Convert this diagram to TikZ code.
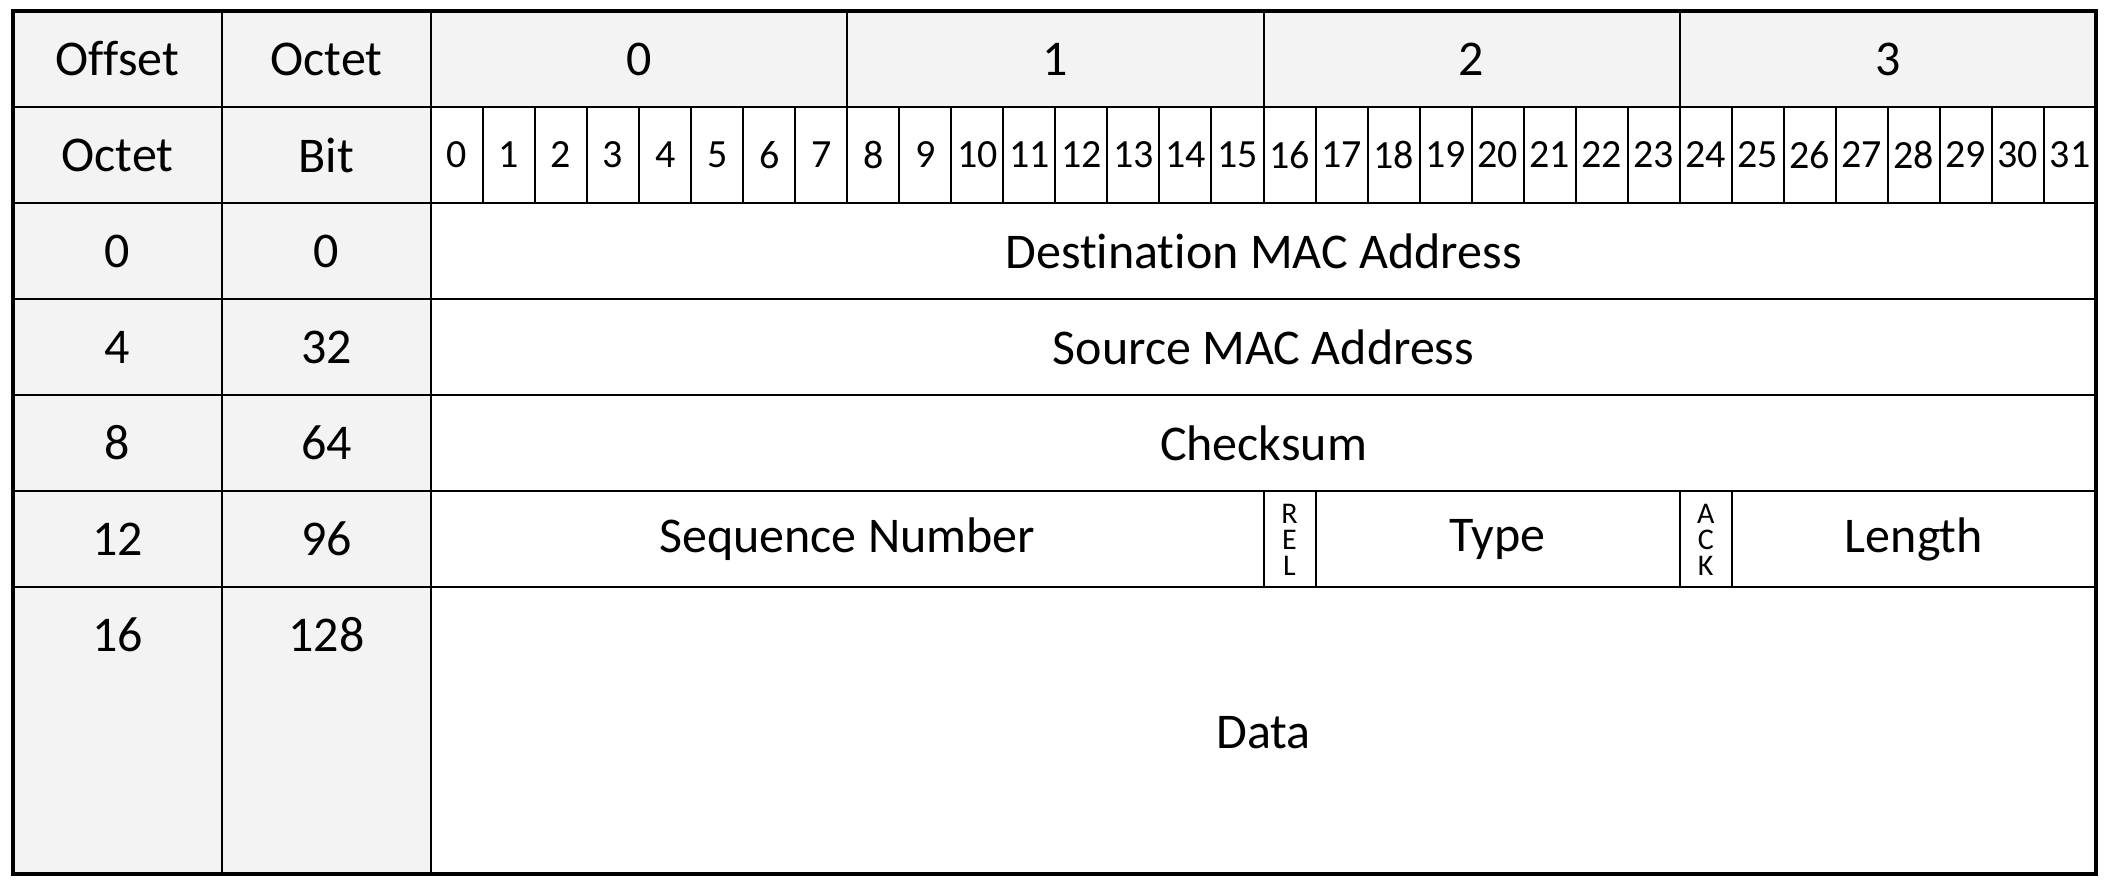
\documentclass[tikz,border=0pt]{standalone}
\usepackage{fontspec}
\setmainfont{Carlito}[Ligatures=NoCommon]
\definecolor{hdr}{RGB}{243,243,243}
\begin{document}
\begin{tikzpicture}[x=0.5pt,y=-0.5pt,
  grid/.style={draw=black,line width=1pt},
  big/.style={font=\fontsize{25}{30}\selectfont, inner sep=0},
  bitlbl/.style={font=\fontsize{20}{24}\selectfont, inner sep=0},
  tinylbl/.style={font=\fontsize{15}{13}\selectfont, align=center, inner sep=0}]
\useasboundingbox (0,0) rectangle (2110,885);
\def\bw{52.03125}
% fills
\fill[hdr] (13,11) rectangle (2096,107);
\fill[hdr] (13,107) rectangle (431,874);
% header row 1
\draw[grid] (13,11) rectangle (222,107);
\node[big] (hOffset) at (117.5,59) {Offset};
\draw[grid] (222,11) rectangle (431,107);
\node[big] (hOctet) at (326.5,59) {Octet};
\foreach \k in {0,1,2,3}{
  \draw[grid] ({431+\k*8*\bw},11) rectangle ({431+(\k+1)*8*\bw},107);
  \node[big] (oct\k) at ({431+(\k+0.5)*8*\bw},59) {\k};
}
% header row 2
\draw[grid] (13,107) rectangle (222,203);
\node[big] (hOctetB) at (117.5,155) {Octet};
\draw[grid] (222,107) rectangle (431,203);
\node[big] (hBit) at (326.5,155) {Bit};
\foreach \i in {0,...,31}{
  \draw[grid] ({431+\i*\bw},107) rectangle ({431+(\i+1)*\bw},203);
  \node[bitlbl] (bit\i) at ({431+(\i+0.5)*\bw},155) {\i};
}
% left columns
\foreach \t/\b/\o/\bt/\n in {203/299/0/0/a,299/395/4/32/b,395/491/8/64/c,491/587/12/96/d,587/874/16/128/e}{
  \draw[grid] (13,\t) rectangle (222,\b);
  \draw[grid] (222,\t) rectangle (431,\b);
  \node[big] (off\n) at (117.5,{\t+48}) {\o};
  \node[big] (bof\n) at (326.5,{\t+48}) {\bt};
}
% fields
\draw[grid] (431,203) rectangle (2096,299);
\node[big] (dst) at (1263.5,251) {Destination MAC Address};
\draw[grid] (431,299) rectangle (2096,395);
\node[big] (src) at (1263.5,347) {Source MAC Address};
\draw[grid] (431,395) rectangle (2096,491);
\node[big] (chk) at (1263.5,443) {Checksum};
\draw[grid] (431,491) rectangle ({431+16*\bw},587);
\node[big] (seq) at ({431+8*\bw},539) {Sequence Number};
\draw[grid] ({431+16*\bw},491) rectangle ({431+17*\bw},587);
\node[tinylbl] (rel) at ({431+16.5*\bw},540) {R\\E\\L};
\draw[grid] ({431+17*\bw},491) rectangle ({431+24*\bw},587);
\node[big] (typ) at ({431+20.5*\bw},539) {Type};
\draw[grid] ({431+24*\bw},491) rectangle ({431+25*\bw},587);
\node[tinylbl] (ack) at ({431+24.5*\bw},540) {A\\C\\K};
\draw[grid] ({431+25*\bw},491) rectangle (2096,587);
\node[big] (len) at ({431+28.5*\bw},539) {Length};
\draw[grid] (431,587) rectangle (2096,874);
\node[big] (dat) at (1263.5,733) {Data};
% outer border
\draw[line width=1.6pt] (13,11) rectangle (2096,874);
\end{tikzpicture}
\end{document}
